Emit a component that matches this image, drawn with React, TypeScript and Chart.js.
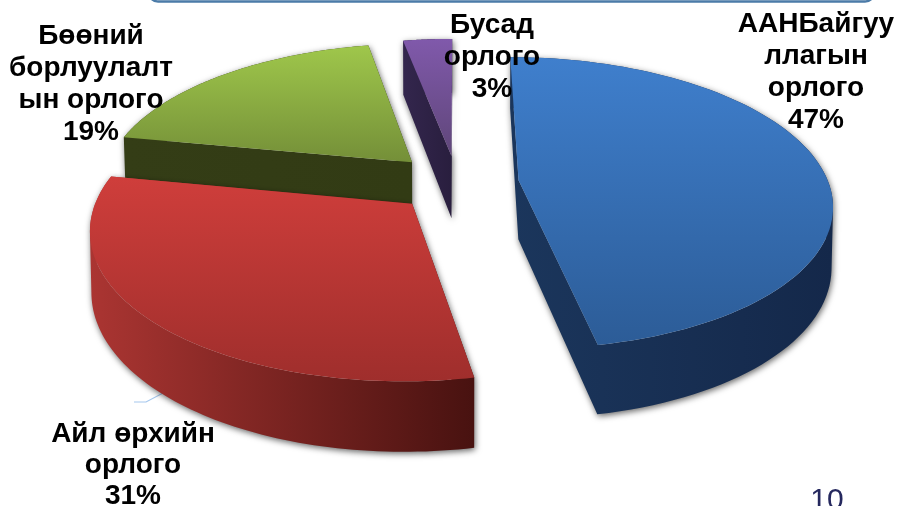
import React, { useEffect, useRef } from "react";
import { Chart, registerables } from "chart.js";

Chart.register(...registerables);

const sliceNames = ["ААНБайгуулагын орлого", "Айл өрхийн орлого", "Бөөний борлуулалтын орлого", "Бусад орлого"];
const sliceValues = [47, 31, 19, 3];
const sliceExplode = [0.2, 0.2, 0.21, 0.195];
const sliceDepth = [59, 58, 43, 64];
const drawOrder = [2, 3, 0, 1];
const topColors = [["#3f7fcd", "#2c5c97"], ["#cf3e3b", "#9f2e2c"], ["#9fc74b", "#748f38"], ["#8059ab", "#5f4679"]];
const wallColors = [["#1b365c", "#14284a"], ["#ab3532", "#481210"], ["#343d16", "#323b14"], ["#33264d", "#291e3e"]];

const labelLines = [
  ["ААНБайгуу", "ллагын", "орлого", "47%"],
  ["Айл өрхийн", "орлого", "31%"],
  ["Бөөний", "борлуулалт", "ын орлого", "19%"],
  ["Бусад", "орлого", "3%"],
];
const labelCenterX = [816, 133, 91, 492];
const labelFirstBaseline = [32, 442, 44, 33];
const labelLineGap = [32, 31, 32, 32];
const pageNumber = "10";

const view = { cx: 457, cy: 183, A: 310, B: 143, p: 0.155 };

function project(X: number, Y: number) {
  const w = 1 - view.p * Y;
  return { x: view.cx + (view.A * X) / w, y: view.cy + (view.B * Y) / w, w };
}

const pie3d = {
  id: "pie3d",
  beforeDatasetsDraw(chart: any) {
    const ctx = chart.ctx;
    const arcs = chart.getDatasetMeta(0).data;

    // frame remnant at the top edge of the slide
    ctx.save();
    ctx.beginPath();
    ctx.roundRect(149, -30, 725, 31.5, 9);
    ctx.lineWidth = 2.6;
    ctx.strokeStyle = "#4b7ba8";
    ctx.stroke();
    // leader line
    ctx.beginPath();
    ctx.moveTo(134, 402);
    ctx.lineTo(146, 402);
    ctx.lineTo(165, 392);
    ctx.lineWidth = 1.2;
    ctx.strokeStyle = "#a6c8ee";
    ctx.stroke();
    ctx.restore();

    for (const i of drawOrder) {
      const el = arcs[i];
      const mid = (el.startAngle + el.endAngle) / 2;
      const ox = Math.cos(mid) * sliceExplode[i];
      const oy = Math.sin(mid) * sliceExplode[i];
      const rim: { X: number; Y: number }[] = [];
      const n = 90;
      for (let k = 0; k <= n; k++) {
        const a = el.startAngle + ((el.endAngle - el.startAngle) * k) / n;
        rim.push({ X: ox + Math.cos(a), Y: oy + Math.sin(a) });
      }
      const outline = [{ X: ox, Y: oy }, ...rim];
      const top = outline.map((q) => project(q.X, q.Y));
      const bottom = top.map((t) => ({
        x: t.x + (view.cx - t.x) * 0.004,
        y: t.y + sliceDepth[i] / t.w,
      }));
      const allX = [...top, ...bottom].map((q) => q.x);
      const topY = top.map((q) => q.y);

      // walls as one union path
      ctx.save();
      ctx.beginPath();
      const m = top.length;
      for (let k = 0; k < m; k++) {
        const j = (k + 1) % m;
        const quad = [top[k], top[j], bottom[j], bottom[k]];
        let area = 0;
        quad.forEach((q, h) => {
          const r = quad[(h + 1) % 4];
          area += q.x * r.y - r.x * q.y;
        });
        if (area < 0) quad.reverse();
        ctx.moveTo(quad[0].x, quad[0].y);
        for (let h = 1; h < 4; h++) ctx.lineTo(quad[h].x, quad[h].y);
        ctx.closePath();
      }
      const wall = ctx.createLinearGradient(Math.min(...allX), 0, Math.max(...allX), 0);
      wall.addColorStop(0, wallColors[i][0]);
      wall.addColorStop(1, wallColors[i][1]);
      ctx.fillStyle = wall;
      ctx.shadowColor = "rgba(0,0,0,0.6)";
      ctx.shadowBlur = 6;
      ctx.shadowOffsetX = 1;
      ctx.shadowOffsetY = 2;
      ctx.fill();
      ctx.restore();

      // top surface
      ctx.beginPath();
      top.forEach((t, k) => (k ? ctx.lineTo(t.x, t.y) : ctx.moveTo(t.x, t.y)));
      ctx.closePath();
      const face = ctx.createLinearGradient(0, Math.min(...topY), 0, Math.max(...topY));
      face.addColorStop(0, topColors[i][0]);
      face.addColorStop(1, topColors[i][1]);
      ctx.fillStyle = face;
      ctx.fill();
    }

    // labels
    ctx.save();
    ctx.textAlign = "center";
    ctx.textBaseline = "alphabetic";
    ctx.font = 'bold 28px "Liberation Sans", Arial, sans-serif';
    ctx.fillStyle = "#000000";
    labelLines.forEach((lines, i) => {
      lines.forEach((line, k) => {
        ctx.fillText(line, labelCenterX[i], labelFirstBaseline[i] + k * labelLineGap[i]);
      });
    });
    ctx.font = '30px "Liberation Sans", Arial, sans-serif';
    ctx.fillStyle = "#25285e";
    ctx.fillText(pageNumber, 827, 509);
    ctx.restore();
    return false;
  },
};

export default function App() {
  const ref = useRef<HTMLCanvasElement>(null);
  useEffect(() => {
    const chart = new Chart(ref.current as HTMLCanvasElement, {
      type: "pie",
      data: {
        labels: sliceNames,
        datasets: [{ data: sliceValues, backgroundColor: topColors.map((c) => c[0]), borderWidth: 0 }],
      },
      options: {
        animation: false,
        responsive: false,
        rotation: 0,
        plugins: { legend: { display: false }, tooltip: { enabled: false } },
      },
      plugins: [pie3d],
    } as any);
    return () => chart.destroy();
  }, []);
  return (
    <div style={{ position: "fixed", left: 0, top: 0, width: 897, height: 506, overflow: "hidden", background: "#fff" }}>
      <canvas ref={ref} width={897} height={506} style={{ display: "block" }} />
    </div>
  );
}
